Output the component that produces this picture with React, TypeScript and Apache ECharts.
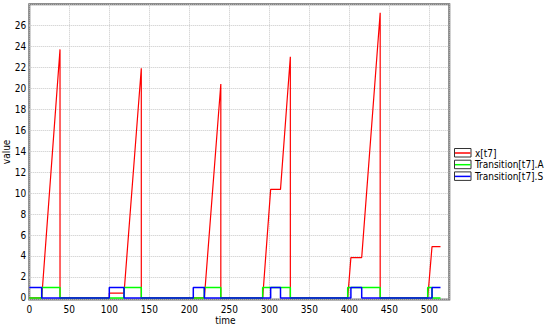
import React, { useEffect, useRef } from "react";
import * as echarts from "echarts";

// x[t7]
const xTime = [0, 15.5, 38.4, 38.4, 100, 100, 118.4, 140, 140, 218.8, 239.4, 239.4, 291.7, 301.7, 314, 326.3, 326.3, 398, 402, 415.5, 438.6, 438.6, 498, 503.4, 514];
const xValue = [0, 0, 23.7, 0, 0, 0.45, 0.45, 21.9, 0, 0, 20.4, 0, 0, 10.35, 10.35, 23.0, 0, 0, 3.85, 3.85, 27.2, 0, 0, 4.9, 4.9];
// Transition[t7].A
const aTime = [0, 15.5, 15.5, 38.4, 38.4, 118.4, 118.4, 140, 140, 218.8, 218.8, 239.4, 239.4, 291.7, 291.7, 326.3, 326.3, 398, 398, 438.6, 438.6, 498, 498, 503.4, 503.4, 514];
const aValue = [0, 0, 1, 1, 0, 0, 1, 1, 0, 0, 1, 1, 0, 0, 1, 1, 0, 0, 1, 1, 0, 0, 1, 1, 0, 0];
// Transition[t7].S
const sTime = [0, 15.5, 15.5, 100, 100, 118.4, 118.4, 205, 205, 218.8, 218.8, 301.7, 301.7, 314, 314, 402, 402, 415.5, 415.5, 503.4, 503.4, 514];
const sValue = [1, 1, 0, 0, 1, 1, 0, 0, 1, 1, 0, 0, 1, 1, 0, 0, 1, 1, 0, 0, 1, 1];

const seriesNames = ["x[t7]", "Transition[t7].A", "Transition[t7].S"];
const seriesColors = ["#ff0000", "#00ff00", "#0000ff"];
const seriesTimes = [xTime, aTime, sTime];
const seriesValues = [xValue, aValue, sValue];

const FONT = "'DejaVu Sans Condensed', 'DejaVu Sans', sans-serif";

export default function App() {
  const ref = useRef<HTMLDivElement>(null);
  useEffect(() => {
    if (!ref.current) return;
    const chart = echarts.init(ref.current, null, { renderer: "svg" });
    const legendGraphics: any[] = [];
    seriesNames.forEach((name, i) => {
      const top = 148.5 + i * 11.7;
      legendGraphics.push({
        type: "rect",
        shape: { x: 454.5, y: top, width: 16.5, height: 8.5 },
        style: { fill: "#ffffff", stroke: "#333333", lineWidth: 1 },
      });
      legendGraphics.push({
        type: "line",
        shape: { x1: 455, y1: top + 4.5, x2: 470.5, y2: top + 4.5 },
        style: { stroke: seriesColors[i], lineWidth: 1.5 },
      });
      legendGraphics.push({
        type: "text",
        x: 475,
        y: top + 4.5,
        style: {
          text: name,
          fill: "#000",
          font: `10px ${FONT}`,
          verticalAlign: "middle",
          align: "left",
        },
      });
    });
    chart.setOption({
      animation: false,
      backgroundColor: "#ffffff",
      textStyle: { fontFamily: FONT },
      grid: {
        left: 29.3,
        top: 4.3,
        right: 100.7,
        bottom: 29.5,
        show: true,
        borderColor: "#6a6a6a",
        borderWidth: 2,
        containLabel: false,
        outerBoundsMode: "none",
      },
      xAxis: {
        type: "value",
        min: 0,
        max: 525,
        interval: 50,
        name: "time",
        nameLocation: "middle",
        nameGap: 16,
        nameMoveOverlap: false,
        nameTextStyle: { fontSize: 10, color: "#000", fontFamily: FONT, padding: [0, 28, 0, 0] },
        axisLine: { show: false },
        axisTick: { show: false },
        axisLabel: { fontSize: 10, color: "#000", margin: 5, showMaxLabel: false, fontFamily: FONT },
        splitLine: { show: true, lineStyle: { color: "#c8c8c8", type: "dotted", width: 1 } },
      },
      yAxis: {
        type: "value",
        min: -0.15,
        max: 28,
        splitNumber: 14,
        name: "value",
        nameLocation: "middle",
        nameGap: 18,
        nameMoveOverlap: false,
        nameTextStyle: { fontSize: 10, color: "#000", fontFamily: FONT },
        axisLine: { show: false },
        axisTick: { show: false },
        axisLabel: {
          fontSize: 10,
          color: "#000",
          margin: 3,
          showMinLabel: false,
          showMaxLabel: false,
          fontFamily: FONT,
        },
        splitLine: { show: true, lineStyle: { color: "#c8c8c8", type: "dotted", width: 1 } },
      },
      series: seriesNames.map((name, i) => ({
        name,
        type: "line",
        data: seriesTimes[i].map((t, j) => [t, seriesValues[i][j]]),
        showSymbol: false,
        symbol: "none",
        lineStyle: { color: seriesColors[i], width: i === 0 ? 1.2 : 1.5 },
        itemStyle: { color: seriesColors[i] },
        z: 2 + i,
      })),
      graphic: legendGraphics,
    });
    return () => chart.dispose();
  }, []);
  return (
    <div
      ref={ref}
      style={{ position: "fixed", left: 0, top: 0, width: 550, height: 329 }}
    />
  );
}
